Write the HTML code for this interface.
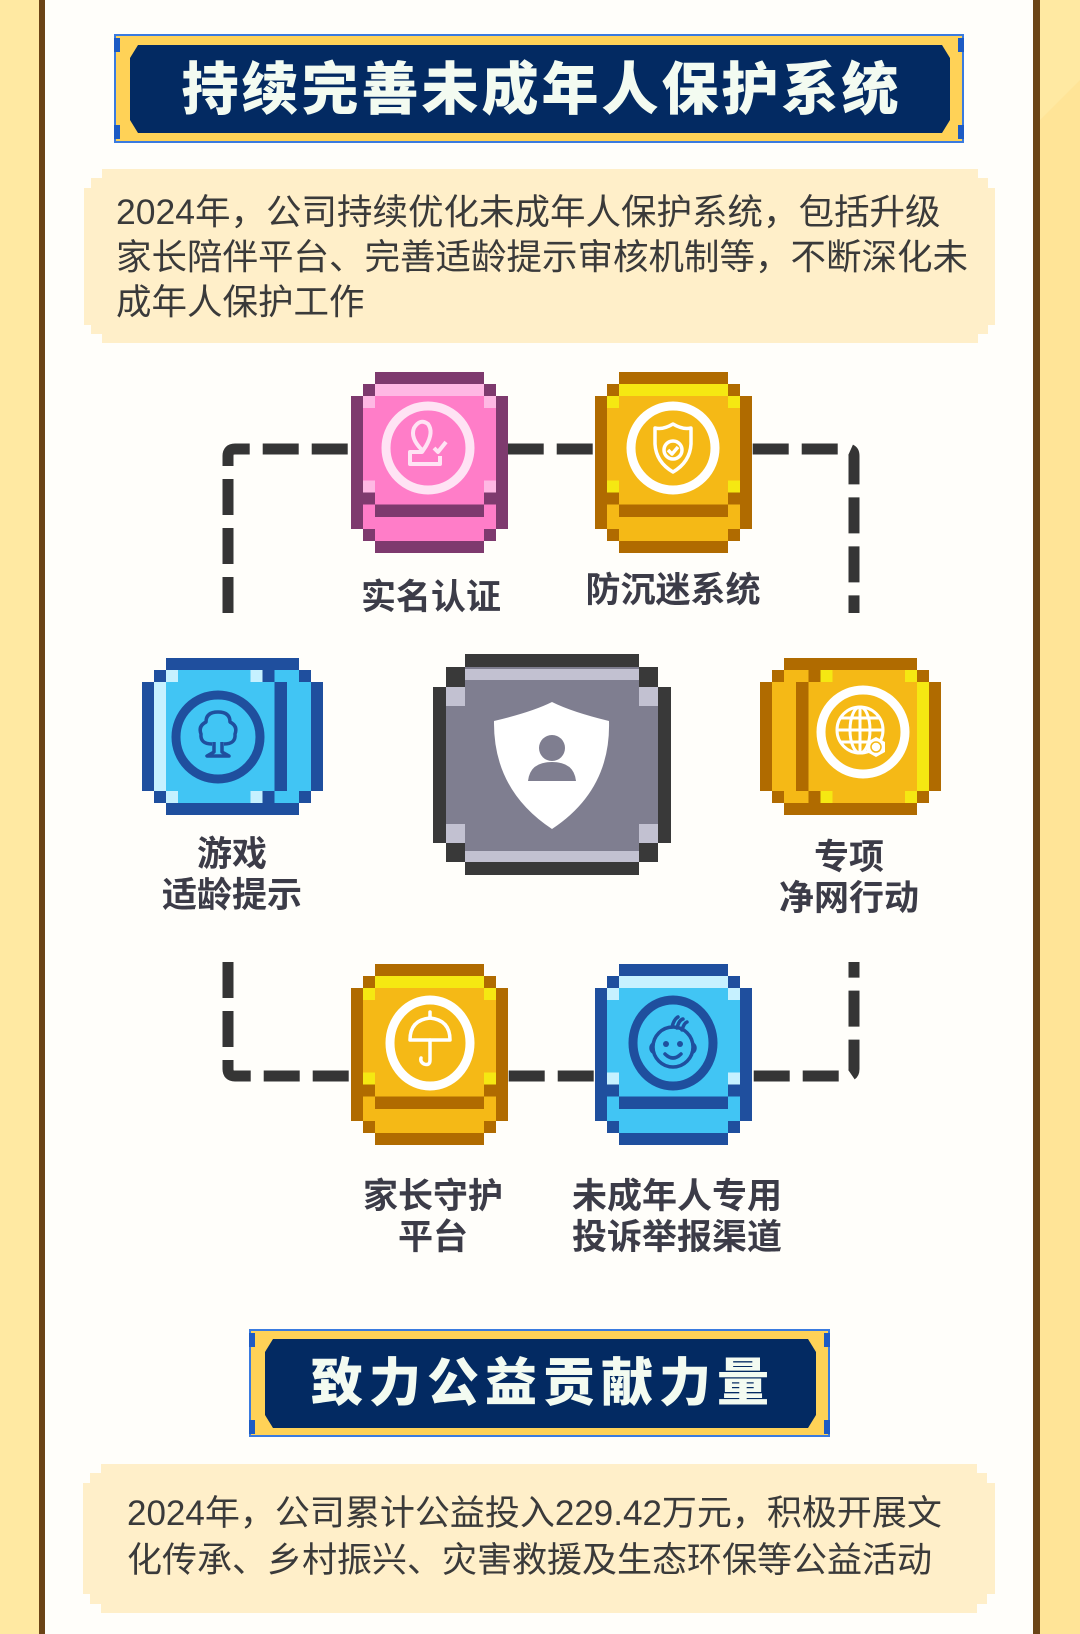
<!DOCTYPE html>
<html><head><meta charset="utf-8">
<style>
html,body{margin:0;padding:0}
body{width:1080px;height:1634px;position:relative;overflow:hidden;background:#fffefa;font-family:"Liberation Sans","Noto Sans CJK SC",sans-serif}
.t{position:absolute;color:#3a3a3a;font-size:35.5px;line-height:45px;white-space:nowrap}
.lb{position:absolute;color:#3c3c48;font-size:35px;font-weight:bold;line-height:41px;text-align:center;white-space:nowrap;transform:translateX(-50%)}
.h{position:absolute;color:#f3fbf1;font-weight:900;white-space:nowrap;text-align:center;transform:translateX(-50%)}
.m{fill:var(--m)}.d{fill:var(--d)}.l{fill:var(--l)}
</style></head><body>
<svg width="1080" height="1634" style="position:absolute;left:0;top:0">
<defs>
<symbol id="vc" viewBox="0 0 13 15" shape-rendering="crispEdges">
<rect class="m" x="1" y="1" width="11" height="13"/>
<g class="d">
<rect x="2" y="0" width="9" height="1"/><rect x="1" y="1" width="1" height="1"/><rect x="11" y="1" width="1" height="1"/>
<rect x="0" y="2" width="1" height="11"/><rect x="12" y="2" width="1" height="11"/>
<rect x="1" y="10" width="1" height="1"/><rect x="11" y="10" width="1" height="1"/>
<rect x="2" y="11" width="9" height="1"/>
<rect x="1" y="13" width="1" height="1"/><rect x="11" y="13" width="1" height="1"/>
<rect x="2" y="14" width="9" height="1"/></g>
<g class="l">
<rect x="2" y="1" width="9" height="1"/><rect x="1" y="2" width="1" height="1"/><rect x="11" y="2" width="1" height="1"/>
<rect x="1" y="9" width="1" height="1"/><rect x="11" y="9" width="1" height="1"/></g>
</symbol>
</defs>
<rect x="0" y="0" width="39" height="1634" fill="#ffe9a2"/>
<rect x="39" y="0" width="6" height="1634" fill="#6b4416"/>
<rect x="1040" y="0" width="40" height="1634" fill="#ffe9a2"/>
<polygon points="1040,120 1080,80 1080,1634 1040,1634" fill="#ffe497"/>
<rect x="1033" y="0" width="7" height="1634" fill="#6b4416"/>

<rect x="114" y="34" width="850" height="109" fill="#3a7be0"/>
<rect x="116" y="36" width="846" height="105" fill="#ffd257"/>
<rect x="114" y="38" width="6" height="14" fill="#1d5bc4"/><rect x="958" y="38" width="6" height="14" fill="#1d5bc4"/>
<rect x="114" y="125" width="6" height="14" fill="#1d5bc4"/><rect x="958" y="125" width="6" height="14" fill="#1d5bc4"/>
<polygon points="138,45 942,45 950,58 950,120 942,133 138,133 130,120 130,58" fill="#032a62"/>
<polygon points="102,169 978,169 978,178 988,178 988,188 995,188 995,325 988,325 988,334 978,334 978,343 102,343 102,334 91,334 91,325 84,325 84,188 91,188 91,178 102,178" fill="#ffefc9"/>

<g fill="none" stroke="#353535" stroke-width="11" stroke-dasharray="36 13">
<path d="M228,613 V456 Q228,449 235,449 H847 Q854,449 854,456 V613"/>
<path d="M228,962 V1069 Q228,1076 235,1076 H847 Q854,1076 854,1069 V962"/>
</g>

<use href="#vc" x="351" y="372" width="157" height="181" style="--m:#ff7dc8;--d:#7e3a6e;--l:#ffb8e4"/>
<use href="#vc" x="595" y="372" width="157" height="181" style="--m:#f5b916;--d:#b06b00;--l:#f5e812"/>
<use href="#vc" x="351" y="964" width="157" height="181" style="--m:#f5b916;--d:#b06b00;--l:#f5e812"/>
<use href="#vc" x="595" y="964" width="157" height="181" style="--m:#41c5f4;--d:#1f4f9e;--l:#c6f1ff"/>
<g transform="translate(142,658) matrix(0,1,1,0,0,0)"><use href="#vc" width="157" height="181" style="--m:#41c5f4;--d:#1f4f9e;--l:#c6f1ff"/></g>
<g transform="translate(760,658) matrix(0,1,-1,0,181,0)"><use href="#vc" width="157" height="181" style="--m:#f5b916;--d:#b06b00;--l:#f5e812"/></g>

<g shape-rendering="crispEdges">
<rect x="446" y="667" width="212" height="195" fill="#7f7e90"/>
<rect x="433" y="687" width="13" height="156" fill="#393939"/>
<rect x="658" y="687" width="13" height="156" fill="#393939"/>
<rect x="465" y="654" width="174" height="13" fill="#393939"/>
<rect x="465" y="862" width="174" height="13" fill="#393939"/>
<rect x="465" y="669" width="174" height="11" fill="#c2c1d1"/>
<rect x="465" y="851" width="174" height="11" fill="#c2c1d1"/>
<rect x="446" y="667" width="19" height="20" fill="#393939"/><rect x="639" y="667" width="19" height="20" fill="#393939"/>
<rect x="446" y="843" width="19" height="19" fill="#393939"/><rect x="639" y="843" width="19" height="19" fill="#393939"/>
<rect x="446" y="687" width="19" height="19" fill="#c2c1d1"/><rect x="639" y="687" width="19" height="19" fill="#c2c1d1"/>
<rect x="446" y="824" width="19" height="19" fill="#c2c1d1"/><rect x="639" y="824" width="19" height="19" fill="#c2c1d1"/>
</g>
<path d="M552,702 Q572,712 609,721 Q611,790 552,829 Q493,790 494,721 Q532,712 552,702 Z" fill="#fff"/>
<circle cx="552" cy="748" r="13" fill="#7f7e90"/>
<path d="M528,781 Q530,762 552,762 Q574,762 576,781 Z" fill="#7f7e90"/>

<circle cx="428" cy="448" r="42" fill="none" stroke="#ffe3f4" stroke-width="9"/>
<g fill="none" stroke="#ffe3f4" stroke-width="4" stroke-linejoin="round">
<path d="M422,450 Q410,438 414,428 Q420,418 428,424 Q434,432 426,446 L422,452 H410 V464 H440 V456"/>
<path d="M434,448 l4,4 l8,-10"/></g>
<circle cx="673" cy="448" r="42" fill="none" stroke="#fff" stroke-width="9"/>
<g fill="none" stroke="#fff" stroke-width="3.5" stroke-linejoin="round">
<path d="M673,424 Q683,430 691,428 V444 Q690,462 673,472 Q656,462 655,444 V428 Q663,430 673,424Z"/>
<circle cx="673" cy="450" r="9"/><path d="M668,450 l4,4 l6,-7"/></g>
<circle cx="218" cy="737" r="42" fill="none" stroke="#1f4f9e" stroke-width="9"/>
<g fill="none" stroke="#1f4f9e" stroke-width="3.5" stroke-linejoin="round">
<path d="M212,744 Q200,744 201,734 Q198,726 206,722 Q206,712 218,712 Q230,712 230,722 Q238,726 235,734 Q236,744 224,744"/>
<path d="M214,742 V752 L207,756 H229 L222,752 V742"/></g>
<circle cx="863" cy="732" r="42" fill="none" stroke="#fff" stroke-width="9"/>
<g fill="none" stroke="#fff" stroke-width="3">
<circle cx="860" cy="730" r="23"/><ellipse cx="860" cy="730" rx="10" ry="23"/>
<path d="M837,730 H883 M841,718 H879 M841,742 H879 M860,707 V753"/></g>
<path d="M876,737 l9,5 v10 l-9,5 l-9,-5 v-10z" fill="#fff"/>
<circle cx="876" cy="747" r="5" fill="none" stroke="#f5b916" stroke-width="1.5"/>
<ellipse cx="430" cy="1043" rx="40" ry="43" fill="none" stroke="#fff" stroke-width="9"/>
<g fill="none" stroke="#fff" stroke-width="3.5" stroke-linecap="round" stroke-linejoin="round">
<path d="M410,1040 Q410,1020 430,1018 Q450,1020 450,1040 Z"/>
<path d="M430,1012 V1018 M430,1040 V1060 Q430,1066 424,1064 Q420,1062 421,1058"/></g>
<ellipse cx="673" cy="1043" rx="40" ry="43" fill="none" stroke="#1f4f9e" stroke-width="9"/>
<g fill="none" stroke="#1f4f9e" stroke-width="3.5" stroke-linecap="round">
<circle cx="673" cy="1047" r="20"/>
<path d="M653,1044 a5,5 0 0 0 0,8 M693,1044 a5,5 0 0 1 0,8"/>
<path d="M665,1054 Q673,1062 681,1054"/>
<path d="M672,1027 q2,-8 6,-10 M677,1028 q2,-8 6,-9 M682,1030 q2,-7 5,-8"/></g>
<circle cx="666" cy="1044" r="3" fill="#1f4f9e"/><circle cx="680" cy="1044" r="3" fill="#1f4f9e"/>

<rect x="249" y="1329" width="581" height="108" fill="#3a7be0"/>
<rect x="251" y="1331" width="577" height="104" fill="#ffd257"/>
<rect x="249" y="1333" width="6" height="14" fill="#1d5bc4"/><rect x="824" y="1333" width="6" height="14" fill="#1d5bc4"/>
<rect x="249" y="1420" width="6" height="14" fill="#1d5bc4"/><rect x="824" y="1420" width="6" height="14" fill="#1d5bc4"/>
<polygon points="273,1339 808,1339 816,1352 816,1415 808,1428 273,1428 265,1415 265,1352" fill="#032a62"/>
<polygon points="101,1464 977,1464 977,1473 987,1473 987,1483 995,1483 995,1594 987,1594 987,1604 977,1604 977,1613 101,1613 101,1604 90,1604 90,1594 83,1594 83,1483 90,1483 90,1473 101,1473" fill="#ffefc9"/>
</svg>

<div class="h" style="left:540px;top:52px;font-size:57px;line-height:76px;letter-spacing:3px;padding-left:3px">持续完善未成年人保护系统</div>
<div class="t" style="left:116px;top:190px">2024年，公司持续优化未成年人保护系统，包括升级<br>家长陪伴平台、完善适龄提示审核机制等，不断深化未<br>成年人保护工作</div>

<div class="lb" style="left:431px;top:577px">实名认证</div>
<div class="lb" style="left:673px;top:570px">防沉迷系统</div>
<div class="lb" style="left:232px;top:834px">游戏<br>适龄提示</div>
<div class="lb" style="left:849px;top:837px">专项<br>净网行动</div>
<div class="lb" style="left:433px;top:1176px">家长守护<br>平台</div>
<div class="lb" style="left:677px;top:1176px">未成年人专用<br>投诉举报渠道</div>

<div class="h" style="left:540px;top:1348px;font-size:52px;line-height:72px;letter-spacing:6px;padding-left:6px">致力公益贡献力量</div>
<div class="t" style="left:127px;top:1490px;line-height:47px;font-size:35px">2024年，公司累计公益投入229.42万元，积极开展文<br>化传承、乡村振兴、灾害救援及生态环保等公益活动</div>
</body></html>
